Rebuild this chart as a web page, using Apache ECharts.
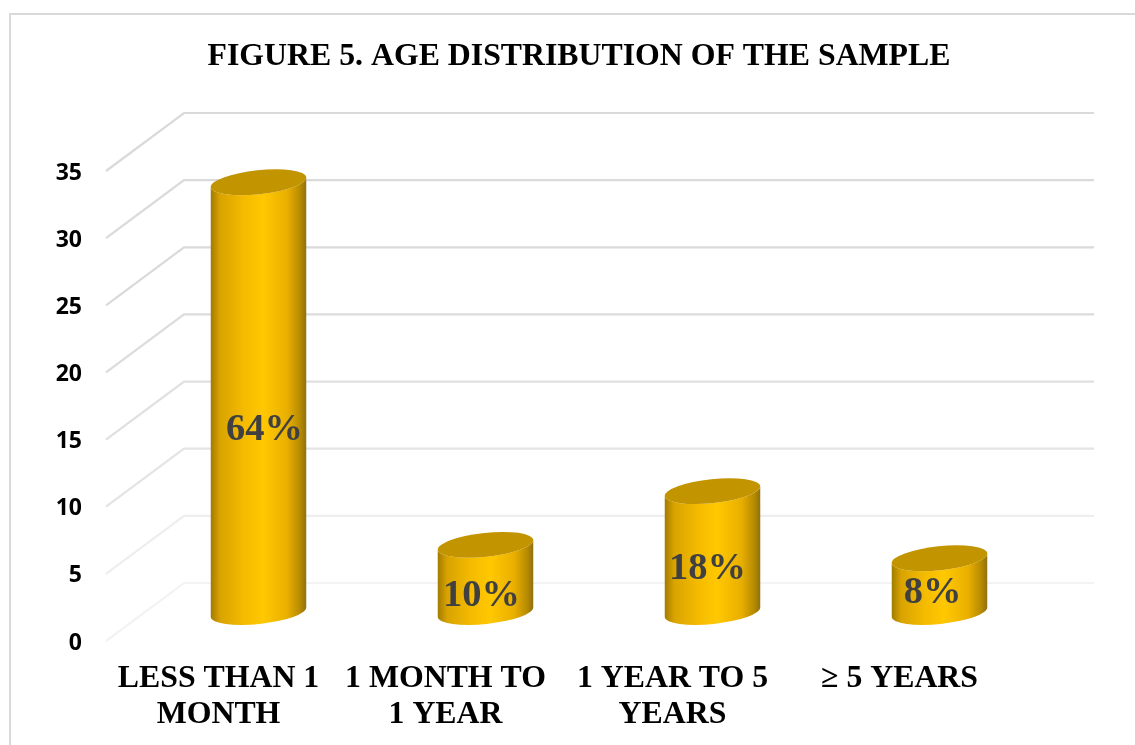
<!DOCTYPE html>
<html>
<head>
<meta charset="utf-8">
<title>Age distribution of the sample</title>
<script src="https://cdn.jsdelivr.net/npm/echarts@6/dist/echarts.min.js"></script>
<style>
  html, body { margin: 0; padding: 0; background: #fff; }
  #chart { width: 1135px; height: 745px; }
</style>
</head>
<body>
<div id="chart"></div>
<script>
// Chart data
const titleText = 'FIGURE 5. AGE DISTRIBUTION OF THE SAMPLE';
const categories = ['LESS THAN 1\nMONTH', '1 MONTH TO\n1 YEAR', '1 YEAR TO 5\nYEARS', '\u2265 5 YEARS'];
const ageCounts = [32, 5, 9, 4];
const yTicks = [0, 5, 10, 15, 20, 25, 30, 35];

// Wall lines fade towards the floor, one shade per tick
const lineShades = ['#f3f3f3', '#eeeeee', '#e4e4e4', '#e0e0e0', '#dcdcdc', '#dadada', '#dadada', '#dadada'];
// Fine placement of the percentage labels relative to each cylinder centre
const labelNudges = [[6, 33], [-4, 18], [-5, 17], [-7, 8]];

const sampleSize = ageCounts.reduce((a, b) => a + b, 0);
const serif = '"Liberation Serif", "Times New Roman", serif';

// Perspective depth: half the offset between the front edge and the back wall
const DEPTH_X = 39;
const DEPTH_Y = 29;
const WALL_OVERHANG = 2;
const BAR_WIDTH_RATIO = 0.423;
const CAP_RY = 12;
const TILT_DEG = 6;

const bodyGradient = new echarts.graphic.LinearGradient(0, 0, 1, 0, [
  { offset: 0, color: '#a07a00' },
  { offset: 0.1, color: '#d9a300' },
  { offset: 0.35, color: '#f4bb00' },
  { offset: 0.55, color: '#ffc800' },
  { offset: 0.8, color: '#e9af00' },
  { offset: 0.93, color: '#b88c00' },
  { offset: 1, color: '#8f6f10' }
]);

function renderWallLine(params, api) {
  const y = api.coord([0, api.value(1)])[1];
  const box = params.coordSys;
  return {
    type: 'polyline',
    silent: true,
    shape: {
      points: [
        [box.x - DEPTH_X, y + DEPTH_Y],
        [box.x + DEPTH_X, y - DEPTH_Y],
        [box.x + box.width + DEPTH_X + WALL_OVERHANG, y - DEPTH_Y]
      ]
    },
    style: { fill: null, stroke: lineShades[params.dataIndex], lineWidth: 2.2 }
  };
}

function renderCylinder(params, api) {
  const i = api.value(0);
  const count = api.value(1);
  const base = api.coord([i, 0]);
  const top = api.coord([i, count]);
  const rx = api.size([1, 0])[0] * BAR_WIDTH_RATIO / 2;
  const rad = TILT_DEG * Math.PI / 180;
  const dx = rx * Math.cos(rad);
  const dy = rx * Math.sin(rad);
  const cx = base[0];
  const arc = (x, y, sweep) => `A${rx} ${CAP_RY} ${-TILT_DEG} 1 ${sweep} ${x} ${y}`;

  const body = `M${cx - dx} ${top[1] + dy}L${cx - dx} ${base[1] + dy}` +
    arc(cx + dx, base[1] - dy, 0) +
    `L${cx + dx} ${top[1] - dy}` +
    arc(cx - dx, top[1] + dy, 1) + 'Z';
  const cap = `M${cx - dx} ${top[1] + dy}` +
    arc(cx + dx, top[1] - dy, 1) +
    arc(cx - dx, top[1] + dy, 1) + 'Z';

  const nudge = labelNudges[params.dataIndex];
  return {
    type: 'group',
    silent: true,
    children: [
      { type: 'path', shape: { pathData: body }, style: { fill: bodyGradient } },
      { type: 'path', shape: { pathData: cap }, style: { fill: '#c29400' } },
      {
        type: 'text',
        style: {
          x: cx + nudge[0],
          y: (base[1] + top[1]) / 2 + nudge[1],
          text: Math.round(count / sampleSize * 100) + '%',
          fill: '#404040',
          font: 'bold 38.5px ' + serif,
          align: 'center',
          verticalAlign: 'middle'
        }
      }
    ]
  };
}

const chart = echarts.init(document.getElementById('chart'));
chart.setOption({
  animation: false,
  backgroundColor: '#ffffff',
  title: {
    text: titleText,
    left: 574,
    top: 36,
    textAlign: 'center',
    textStyle: { fontFamily: serif, fontWeight: 'bold', fontSize: 31.8, color: '#000000' }
  },
  graphic: [{
    type: 'rect',
    silent: true,
    z: -1,
    shape: { x: 10, y: 14, width: 1200, height: 800 },
    style: { fill: null, stroke: '#d9d9d9', lineWidth: 2 }
  }],
  grid: [
    // Plane through the middle of the depth, where the cylinders stand
    { left: 145, top: 142, width: 908, height: 470 },
    // Front edge of the floor, which carries the axis labels
    { left: 105, top: 173, width: 908, height: 470 }
  ],
  xAxis: [
    { gridIndex: 0, type: 'category', data: categories, show: false },
    {
      gridIndex: 1,
      type: 'category',
      data: categories,
      axisLine: { show: false },
      axisTick: { show: false },
      axisLabel: {
        interval: 0,
        margin: 18,
        color: '#000000',
        fontFamily: serif,
        fontWeight: 'bold',
        fontSize: 31.8,
        lineHeight: 36
      }
    }
  ],
  yAxis: [
    { gridIndex: 0, type: 'value', min: 0, max: 35, interval: 5, show: false },
    {
      gridIndex: 1,
      type: 'value',
      min: 0,
      max: 35,
      interval: 5,
      axisLine: { show: false },
      axisTick: { show: false },
      splitLine: { show: false },
      axisLabel: {
        margin: 23,
        color: '#000000',
        fontFamily: '"Open Sans", sans-serif',
        fontWeight: 'bold',
        fontSize: 23
      }
    }
  ],
  series: [
    {
      type: 'custom',
      coordinateSystem: 'cartesian2d',
      xAxisIndex: 0,
      yAxisIndex: 0,
      clip: false,
      z: 1,
      data: yTicks.map(v => [0, v]),
      encode: { x: 0, y: 1 },
      renderItem: renderWallLine
    },
    {
      type: 'custom',
      coordinateSystem: 'cartesian2d',
      xAxisIndex: 0,
      yAxisIndex: 0,
      clip: false,
      z: 2,
      data: ageCounts.map((c, i) => [i, c]),
      encode: { x: 0, y: 1 },
      renderItem: renderCylinder
    }
  ]
});
</script>
</body>
</html>
